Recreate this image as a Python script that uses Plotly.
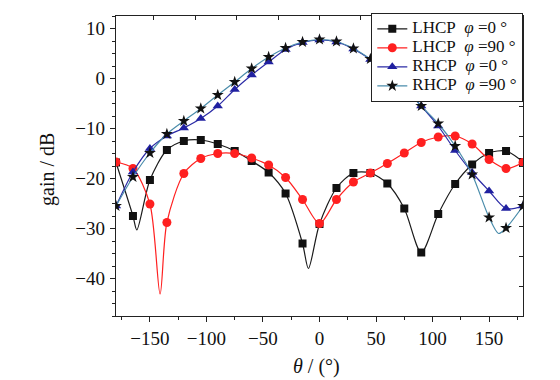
import plotly.graph_objects as go

# ---- data ----
theta = [-180, -165, -150, -135, -120, -105, -90, -75, -60, -45, -30, -15, 0,
         15, 30, 45, 60, 75, 90, 105, 120, 135, 150, 165, 180]

lhcp_phi0 = [-16.8, -27.5, -20.3, -14.3, -12.5, -12.3, -13.1, -14.5, -16.5, -18.8, -23.0, -33.0, -29.1,
             -21.9, -18.9, -18.9, -21.0, -26.0, -34.8, -27.1, -21.1, -17.2, -14.9, -14.5, -16.7]
lhcp_phi90 = [-16.7, -18.0, -25.1, -28.8, -19.0, -16.0, -15.0, -15.0, -15.9, -17.3, -19.8, -24.2, -29.0,
              -24.2, -20.7, -18.9, -17.0, -14.9, -12.8, -11.7, -11.5, -13.1, -16.2, -18.0, -16.8]
rhcp_phi0 = [-25.5, -18.7, -14.0, -11.5, -9.9, -8.0, -5.5, -2.2, 0.7, 3.3, 5.8, 7.2, 7.7,
             7.3, 5.9, 3.8, 1.2, -1.8, -5.5, -9.5, -14.4, -18.8, -22.5, -26.0, -25.5]
rhcp_phi90 = [-25.5, -19.7, -14.9, -11.1, -8.5, -6.0, -3.3, -0.7, 2.0, 4.3, 6.1, 7.3, 7.8,
              7.4, 6.0, 3.9, 1.3, -1.8, -5.5, -9.0, -13.5, -19.2, -27.8, -29.9, -25.5]

# extra curve points (nulls between markers)
lhcp_phi0_null_theta = [-161.6, -9.8]
lhcp_phi0_null_gain = [-30.3, -38.0]
lhcp_phi90_null_theta = [-141.0]
lhcp_phi90_null_gain = [-43.1]
rhcp_phi90_null_theta = [158.4]
rhcp_phi90_null_gain = [-31.0]

names = ["LHCP&nbsp; <i>φ</i> =0 °", "LHCP&nbsp; <i>φ</i> =90 °",
         "RHCP&nbsp; <i>φ</i> =0 °", "RHCP&nbsp; <i>φ</i> =90 °"]

FONT = "Liberation Serif"


def merged(xm, ym, xn, yn):
    pts = sorted(list(zip(xm, ym)) + list(zip(xn, yn)))
    return [p[0] for p in pts], [p[1] for p in pts]


series = [
    (lhcp_phi0, lhcp_phi0_null_theta, lhcp_phi0_null_gain, "#1a1a1a", "#111111", "square", 8),
    (lhcp_phi90, lhcp_phi90_null_theta, lhcp_phi90_null_gain, "#ff2020", "#ff2020", "circle", 9),
    (rhcp_phi0, [], [], "#2b2ba6", "#2020a0", "triangle-up", 9),
    (rhcp_phi90, rhcp_phi90_null_theta, rhcp_phi90_null_gain, "#4a8cab", "#111111", "star", 9),
]

fig = go.Figure()
for (vals, nx, ny, lc, mc, sym, ms), name in zip(series, names):
    lx, ly = merged(theta, vals, nx, ny)
    fig.add_trace(go.Scatter(x=lx, y=ly, mode="lines",
                             line=dict(color=lc, width=1.2, shape="spline", smoothing=0.8),
                             showlegend=False, hoverinfo="skip"))
    fig.add_trace(go.Scatter(x=theta, y=vals, mode="markers",
                             marker=dict(symbol=sym, size=ms, color=mc, line=dict(width=0)),
                             showlegend=False))
    fig.add_trace(go.Scatter(x=[None], y=[None], mode="lines+markers",
                             name='<span style="font-size:17px">' + name + '</span>',
                             line=dict(color=lc, width=1.2),
                             marker=dict(symbol=sym, size=ms, color=mc, line=dict(width=0))))

axis_common = dict(showline=True, linecolor="#222222", linewidth=1.3, showgrid=False,
                   zeroline=False, tickcolor="#222222",
                   tickfont=dict(family=FONT, size=19, color="#111111"))

fig.update_layout(
    width=560, height=380,
    margin=dict(l=116, r=37, t=16, b=64),
    paper_bgcolor="white", plot_bgcolor="white",
    font=dict(family=FONT, color="#111111"),
    xaxis=dict(range=[-180, 180], tick0=0, dtick=50, ticks="outside", ticklen=5,
               minor=dict(dtick=25, ticks="outside", ticklen=3, tickcolor="#222222"),
               **axis_common),
    yaxis=dict(range=[-47.5, 12.5], tick0=0, dtick=10, ticks="outside", ticklen=5,
               minor=dict(dtick=2.5, ticks="outside", ticklen=3, tickcolor="#222222"),
               ticklabelstandoff=1,
               **axis_common),
    xaxis2=dict(overlaying="x", side="top", range=[-180, 180], tick0=0, dtick=36.6,
                ticks="inside", ticklen=4, showticklabels=False, showline=True,
                linecolor="#222222", linewidth=1.3, showgrid=False, zeroline=False,
                tickcolor="#222222"),
    yaxis2=dict(overlaying="y", side="right", range=[-47.5, 12.5], tick0=12.5, dtick=6,
                ticks="inside", ticklen=4, showticklabels=False, showline=True,
                linecolor="#222222", linewidth=1.3, showgrid=False, zeroline=False,
                tickcolor="#222222"),
    legend=dict(x=1, y=1.01, xanchor="right", yanchor="top", bgcolor="white",
                bordercolor="#222222", borderwidth=1.3, itemwidth=30,
                font=dict(family=FONT, size=12, color="#111111"), tracegroupgap=0),
    annotations=[
        dict(text="gain / dB", xref="paper", yref="paper", x=-0.167, y=0.487,
             xanchor="center", yanchor="middle", textangle=-90, showarrow=False,
             font=dict(family=FONT, size=20, color="#111111")),
        dict(text="<i>θ</i> / (°)", xref="paper", yref="paper", x=0.493, y=-0.169,
             xanchor="center", yanchor="middle", showarrow=False,
             font=dict(family=FONT, size=20, color="#111111")),
    ],
)

# invisible trace to activate the mirror axes
fig.add_trace(go.Scatter(x=[None], y=[None], xaxis="x2", yaxis="y2", showlegend=False,
                         hoverinfo="skip"))

fig.write_html("out.html", config={"displayModeBar": False},
               post_script="document.body.style.margin='0';")
